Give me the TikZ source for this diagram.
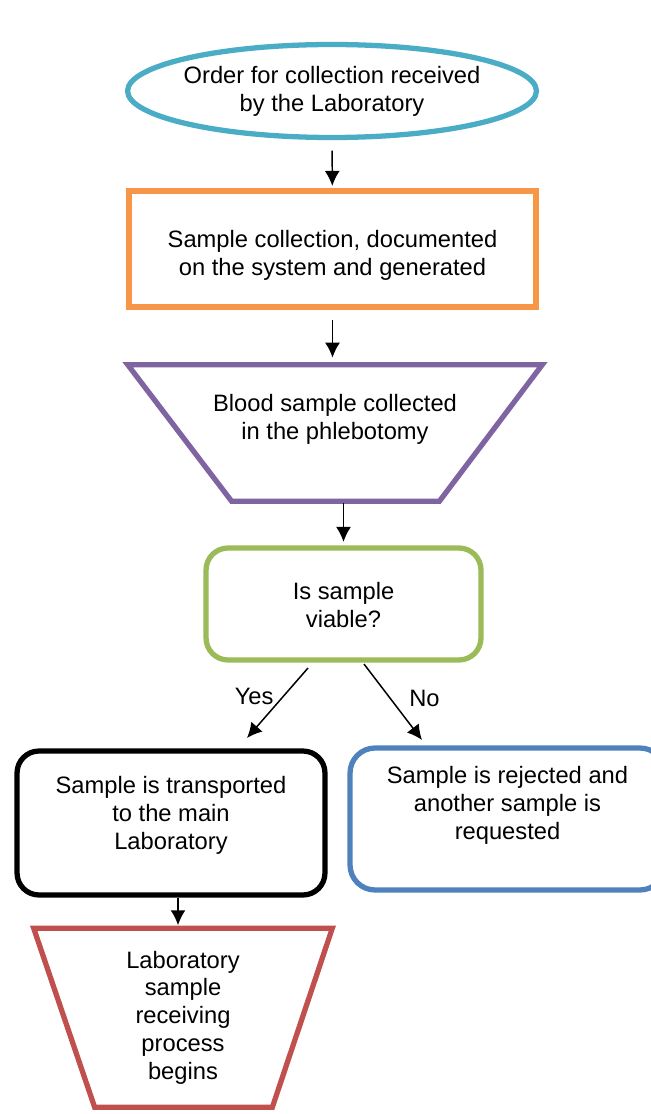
\documentclass[tikz,border=0pt]{standalone}
\usepackage{fontspec}
\setmainfont{Liberation Sans}
\usetikzlibrary{calc,arrows.meta,shapes.geometric}
\definecolor{ordercol}{HTML}{4BACC6}
\definecolor{collectcol}{HTML}{F79646}
\definecolor{bloodcol}{HTML}{8064A2}
\definecolor{viablecol}{HTML}{9BBB59}
\definecolor{rejectcol}{HTML}{4F81BD}
\definecolor{receivecol}{HTML}{C0504D}

\begin{document}
\begin{tikzpicture}[x=0.02cm,y=-0.02cm,>={Latex[length=8.5pt,width=8.5pt]},
  txt/.style={align=center,inner sep=0pt,font=\fontsize{13.5}{15.9}\selectfont},
  frame/.style={draw=#1,line width=3pt,inner sep=0pt},
  flow/.style={->,line width=0.85pt}]
  \useasboundingbox (0,0) rectangle (651,1114);
  % order comes in (ellipse on top)
  \node[frame=ordercol,ellipse,minimum width=8.18cm,minimum height=1.86cm] (order) at (332,91) {};
  \node[txt] (order text) at (order) {Order for collection received\\by the Laboratory};
  % collection documented
  \node[frame=collectcol,minimum width=8.14cm,minimum height=2.32cm] (collect) at (332.5,249) {};
  \node[txt] (collect text) at ($(collect)+(0,6)$) {Sample collection, documented\\on the system and generated};
  % phlebotomy, the box only gives the corners of the trapezoid
  \node[minimum width=8.28cm,minimum height=2.72cm,inner sep=0pt] (blood) at (335,433) {};
  \draw[bloodcol,line width=3pt] (blood.north west) -- (blood.north east)
    -- ($(blood.south east)+(-103,0)$) -- ($(blood.south west)+(104,0)$) -- cycle;
  \node[txt] (blood text) at ($(blood)+(0,-14)$) {Blood sample collected\\in the phlebotomy};
  % decision
  \node[frame=viablecol,rounded corners=0.44cm,minimum width=5.5cm,minimum height=2.24cm] (viable) at (343.5,604) {};
  \node[txt] (viable text) at ($(viable)+(0,1)$) {Is sample\\viable?};
  % the two outcomes
  \node[frame=black,rounded corners=0.44cm,minimum width=6.16cm,minimum height=2.88cm] (transport) at (171,823) {};
  \node[txt] (transport text) at ($(transport)+(0,-8)$) {Sample is transported\\to the main\\Laboratory};
  \node[frame=rejectcol,rounded corners=0.5cm,minimum width=6.3cm,minimum height=2.84cm] (reject) at (507.5,819) {};
  \node[txt] (reject text) at ($(reject)+(0,-14)$) {Sample is rejected and\\another sample is\\requested};
  % receiving at the main lab
  \node[minimum width=5.96cm,minimum height=3.57cm,inner sep=0pt] (receive) at (183,1017.75) {};
  \draw[receivecol,line width=3pt] (receive.north west) -- (receive.north east)
    -- ($(receive.south east)+(-60,0)$) -- ($(receive.south west)+(61,0)$) -- cycle;
  \node[txt] (receive text) at (receive) {Laboratory\\sample\\receiving\\process\\begins};
  % arrows
  \draw[flow,shorten <=6pt,shorten >=1.4pt] (order) -- (collect);
  \draw[flow,shorten <=5.9pt,shorten >=4pt] (collect.south) -- (collect.south |- blood.north);
  \draw[flow,shorten <=1pt,shorten >=2pt] (blood.south -| viable.north) -- (viable.north);
  \draw[flow] ($(viable.south)+(-35.5,5.4)$) -- ($(transport.north)+(76,-10.4)$)
    node[txt,pos=0.41,left=5pt] (yes) {Yes};
  \draw[flow] ($(viable.south)+(20.5,1.4)$) -- ($(reject.north)+(-85.5,-5.4)$)
    node[txt,pos=0.45,right=10.5pt] (no) {No};
  \draw[flow,shorten >=1.7pt] ($(transport.south)+(7,0)$) -- ($(receive.north)+(-5,0)$);
\end{tikzpicture}
\end{document}
